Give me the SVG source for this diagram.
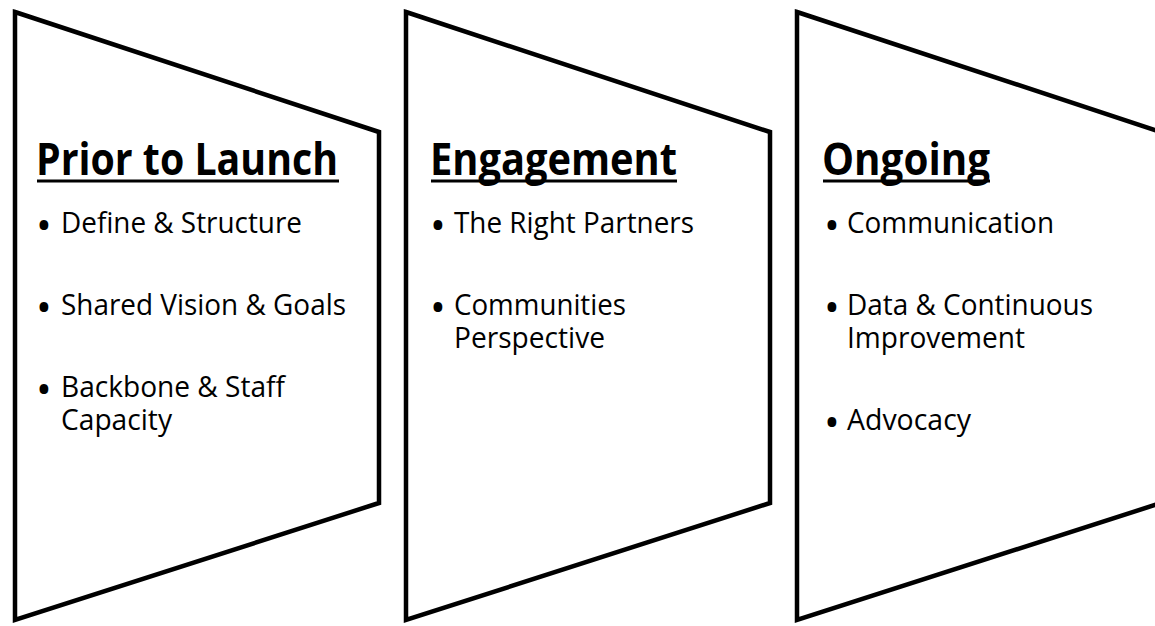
<svg xmlns="http://www.w3.org/2000/svg" width="1155" height="626" viewBox="0 0 1155 626">
<style>
.shape{fill:#fff;stroke:#000;stroke-width:4.5;stroke-linejoin:miter}
.title{font-family:"Open Sans","Noto Sans","Liberation Sans",sans-serif;font-weight:700;font-size:45px;fill:#000}
.item{font-family:"Open Sans","Noto Sans","Liberation Sans",sans-serif;font-size:29px;fill:#000}
.bul{font-family:"Open Sans","Noto Sans","Liberation Sans",sans-serif;font-size:42px;fill:#000;text-anchor:middle}
.ul{stroke:#000;stroke-width:3}
</style>
<rect width="1155" height="626" fill="#fff"/>
<g id="prior-to-launch">
<polygon class="shape" points="15,12 379,132 379,503 15,620"/>
<text class="title" x="36" y="175" textLength="302" lengthAdjust="spacingAndGlyphs">Prior to Launch</text>
<line class="ul" x1="37" y1="181" x2="339" y2="181"/>
<text class="bul" x="44" y="240">•</text>
<text class="item" x="61" y="233" textLength="241" lengthAdjust="spacingAndGlyphs">Define &amp; Structure</text>
<text class="bul" x="44" y="322">•</text>
<text class="item" x="61" y="315" textLength="285" lengthAdjust="spacingAndGlyphs">Shared Vision &amp; Goals</text>
<text class="bul" x="44" y="404">•</text>
<text class="item"><tspan x="61" y="397" textLength="224" lengthAdjust="spacingAndGlyphs">Backbone &amp; Staff</tspan><tspan x="61" y="430" textLength="111" lengthAdjust="spacingAndGlyphs">Capacity</tspan></text>
</g>
<g id="engagement">
<polygon class="shape" points="406,12 770,132 770,503 406,620"/>
<text class="title" x="430" y="175" textLength="247" lengthAdjust="spacingAndGlyphs">Engagement</text>
<line class="ul" x1="431" y1="181" x2="677" y2="181"/>
<text class="bul" x="438" y="240">•</text>
<text class="item" x="454" y="233" textLength="240" lengthAdjust="spacingAndGlyphs">The Right Partners</text>
<text class="bul" x="438" y="322">•</text>
<text class="item"><tspan x="454" y="315" textLength="172" lengthAdjust="spacingAndGlyphs">Communities</tspan><tspan x="454" y="348" textLength="151" lengthAdjust="spacingAndGlyphs">Perspective</tspan></text>
</g>
<g id="ongoing">
<polygon class="shape" points="797,12 1161,132 1161,503 797,620"/>
<text class="title" x="822" y="175" textLength="168" lengthAdjust="spacingAndGlyphs">Ongoing</text>
<line class="ul" x1="823" y1="181" x2="990" y2="181"/>
<text class="bul" x="832" y="240">•</text>
<text class="item" x="847" y="233" textLength="207" lengthAdjust="spacingAndGlyphs">Communication</text>
<text class="bul" x="832" y="322">•</text>
<text class="item"><tspan x="847" y="315" textLength="246" lengthAdjust="spacingAndGlyphs">Data &amp; Continuous</tspan><tspan x="847" y="348" textLength="178" lengthAdjust="spacingAndGlyphs">Improvement</tspan></text>
<text class="bul" x="832" y="437">•</text>
<text class="item" x="847" y="430" textLength="124" lengthAdjust="spacingAndGlyphs">Advocacy</text>
</g>
</svg>
